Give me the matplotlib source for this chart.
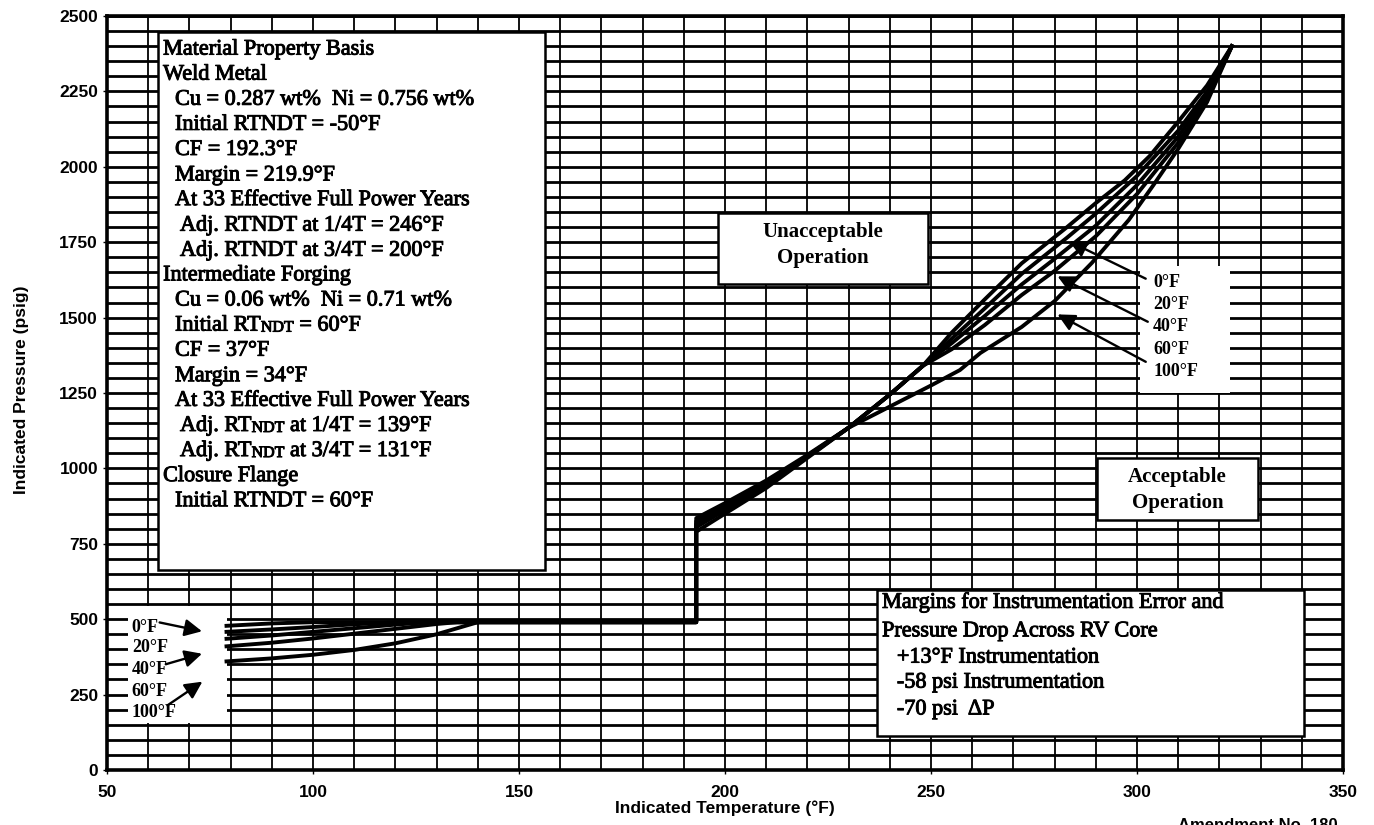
import numpy as np
import matplotlib.pyplot as plt
import matplotlib.patheffects as pe
from matplotlib.patches import Rectangle

plt.rcParams['font.family'] = ['Liberation Sans', 'DejaVu Sans']

# heatup limit curves (indicated temperature in F, indicated pressure in psig)
rate_labels = ['0°F', '20°F', '40°F', '60°F', '100°F']

t_0f = [79, 90, 100, 193, 193, 200, 210, 220, 230, 240, 248, 255, 263, 272, 283,
        290, 297, 303, 310, 317, 323]
p_0f = [478, 486, 490, 490, 835, 885, 960, 1045, 1135, 1245, 1340, 1450, 1560, 1680, 1800,
        1880, 1955, 2035, 2150, 2270, 2400]

t_20f = [79, 90, 100, 110, 120, 193, 193, 200, 210, 220, 230, 240, 248, 255, 263, 272,
         283, 290, 300, 310, 317, 323]
p_20f = [458, 466, 474, 483, 490, 490, 825, 877, 953, 1042, 1135, 1245, 1340, 1430, 1530, 1645,
         1765, 1845, 1970, 2120, 2250, 2400]

t_40f = [79, 90, 100, 110, 120, 128, 193, 193, 200, 210, 220, 230, 240, 248, 255, 263,
         272, 280, 290, 300, 310, 317, 323]
p_40f = [435, 446, 458, 470, 482, 490, 490, 815, 870, 948, 1040, 1135, 1245, 1340, 1415, 1505,
         1610, 1695, 1805, 1940, 2100, 2240, 2400]

t_60f = [79, 90, 100, 110, 120, 130, 135, 193, 193, 200, 210, 220, 230, 240, 248, 255,
         263, 272, 280, 290, 300, 310, 317, 323]
p_60f = [410, 422, 436, 452, 468, 484, 490, 490, 805, 862, 942, 1038, 1135, 1245, 1340, 1395,
         1475, 1575, 1655, 1770, 1910, 2080, 2225, 2400]

t_100f = [79, 90, 100, 110, 120, 130, 140, 193, 193, 200, 210, 220, 230, 240, 250, 257,
          262, 272, 280, 289, 298, 304, 310, 317, 323]
p_100f = [360, 370, 382, 398, 420, 450, 490, 490, 790, 850, 935, 1035, 1135, 1205, 1275, 1326,
          1383, 1469, 1555, 1681, 1824, 1940, 2060, 2215, 2400]

material_lines = [
    (0, 'Material Property Basis'),
    (0, 'Weld Metal'),
    (1, 'Cu = 0.287 wt%  Ni = 0.756 wt%'),
    (1, 'Initial RTNDT = -50°F'),
    (1, 'CF = 192.3°F'),
    (1, 'Margin = 219.9°F'),
    (1, 'At 33 Effective Full Power Years'),
    (2, 'Adj. RTNDT at 1/4T = 246°F'),
    (2, 'Adj. RTNDT at 3/4T = 200°F'),
    (0, 'Intermediate Forging'),
    (1, 'Cu = 0.06 wt%  Ni = 0.71 wt%'),
    (1, ('Initial RT', ' = 60°F')),
    (1, 'CF = 37°F'),
    (1, 'Margin = 34°F'),
    (1, 'At 33 Effective Full Power Years'),
    (2, ('Adj. RT', ' at 1/4T = 139°F')),
    (2, ('Adj. RT', ' at 3/4T = 131°F')),
    (0, 'Closure Flange'),
    (1, 'Initial RTNDT = 60°F'),
]

margin_lines = [
    (0, 'Margins for Instrumentation Error and'),
    (0, 'Pressure Drop Across RV Core'),
    (1, '+13°F Instrumentation'),
    (1, '-58 psi Instrumentation'),
    (1, '-70 psi  ΔP'),
]

serif = ['Liberation Serif', 'DejaVu Serif']
# thicken the serif lettering a little
heavy = [pe.withStroke(linewidth=0.7, foreground='black')]

fig = plt.figure(figsize=(13.74, 8.25), dpi=100)
ax = fig.add_axes([0.0779, 0.0667, 0.8996, 0.9139])

ax.set_xlim(50, 350)
ax.set_ylim(0, 2500)
ax.set_xticks(np.arange(50, 351, 50))
ax.set_yticks(np.arange(0, 2501, 250))
ax.set_xticks(np.arange(50, 351, 10), minor=True)
ax.set_yticks(np.arange(0, 2501, 50), minor=True)
ax.set_axisbelow(True)
ax.grid(True, which='both', axis='y', color='black', lw=2.0)
ax.grid(True, which='both', axis='x', color='black', lw=1.3)
ax.tick_params(which='minor', length=0)
ax.tick_params(which='major', length=3, width=1, labelsize=12.5)
ax.tick_params(axis='x', pad=8)
for lab in ax.get_xticklabels() + ax.get_yticklabels():
    lab.set_fontweight('bold')
for sp in ax.spines.values():
    sp.set_linewidth(2.6)

ax.set_xlabel('Indicated Temperature (°F)', fontsize=12.5, fontweight='bold')
ax.set_ylabel('Indicated Pressure (psig)', fontsize=12.5, fontweight='bold')
ax.xaxis.set_label_coords(0.5, -0.041)
ax.yaxis.set_label_coords(-0.063, 0.504)

# curves
for t, p in [(t_0f, p_0f), (t_20f, p_20f), (t_40f, p_40f), (t_60f, p_60f), (t_100f, p_100f)]:
    ax.plot(t, p, color='black', lw=2.8, zorder=5, solid_joinstyle='round')

# white backgrounds behind the rate labels
ax.add_patch(Rectangle((55.1, 155), 24.0, 390, facecolor='white', edgecolor='none', zorder=2))
ax.add_patch(Rectangle((300.7, 1250), 21.9, 420, facecolor='white', edgecolor='none', zorder=2))

lab_kw = dict(fontsize=13, fontweight='bold', family=serif, va='center', zorder=6)
for lab, y in zip(rate_labels, [474, 405, 332, 259, 189]):
    ax.text(56.0, y, lab, **lab_kw)
for lab, y in zip(rate_labels, [1615, 1542, 1469, 1393, 1320]):
    ax.text(303.9, y, lab, **lab_kw)

arrow_kw = dict(arrowstyle='-|>', color='black', lw=1.7, mutation_scale=26)
for tail, head in [((62.1, 491), (73.7, 458)), ((63.6, 348), (73.7, 388)),
                   ((64.1, 209), (73.7, 298))]:
    ax.annotate('', xy=head, xytext=tail, arrowprops=arrow_kw, zorder=6)
for tail, head in [((302.7, 1625), (282.9, 1757)), ((303.2, 1482), (280.1, 1641)),
                   ((302.7, 1349), (280.1, 1515))]:
    ax.annotate('', xy=head, xytext=tail, arrowprops=arrow_kw, zorder=6)

# material property box
ax.add_patch(Rectangle((62.4, 663), 93.9, 1784, facecolor='white', edgecolor='black',
                       lw=1.8, zorder=3))
txt_kw = dict(fontsize=16, family=serif, zorder=4, path_effects=heavy)
indent = [63.6, 66.5, 67.7]
for i, (lvl, line) in enumerate(material_lines):
    y = 2387 - 83.2 * i
    if isinstance(line, tuple):
        t1 = ax.text(indent[lvl], y, line[0], va='center', **txt_kw)
        t2 = ax.annotate('NDT', xy=(1, 0), xycoords=t1, fontsize=11.5, family=serif,
                         va='bottom', zorder=4, path_effects=heavy)
        ax.annotate(line[1], xy=(1, 0), xycoords=t2, va='bottom', **txt_kw)
    else:
        ax.text(indent[lvl], y, line, va='center', **txt_kw)

# region boxes
box_kw = dict(fontsize=15, fontweight='bold', family=serif, ha='center', va='center', zorder=4)
ax.add_patch(Rectangle((198.3, 1611), 51.0, 236, facecolor='white', edgecolor='black',
                       lw=1.8, zorder=3))
ax.text(223.8, 1784, 'Unacceptable', **box_kw)
ax.text(223.8, 1698, 'Operation', **box_kw)

ax.add_patch(Rectangle((290.3, 829), 39.1, 205, facecolor='white', edgecolor='black',
                       lw=1.8, zorder=3))
ax.text(309.8, 971, 'Acceptable', **box_kw)
ax.text(309.8, 885, 'Operation', **box_kw)

# instrumentation margin box
ax.add_patch(Rectangle((236.9, 113), 103.6, 484, facecolor='white', edgecolor='black',
                       lw=1.8, zorder=3))
for (lvl, line), y in zip(margin_lines, [554, 458, 371, 288, 199]):
    ax.text([238.1, 241.7][lvl], y, line, va='center', **txt_kw)

fig.text(0.857, 0.0, 'Amendment No. 180', fontsize=12, fontweight='bold',
         va='center', ha='left')

fig.savefig('out.png', dpi=100)
